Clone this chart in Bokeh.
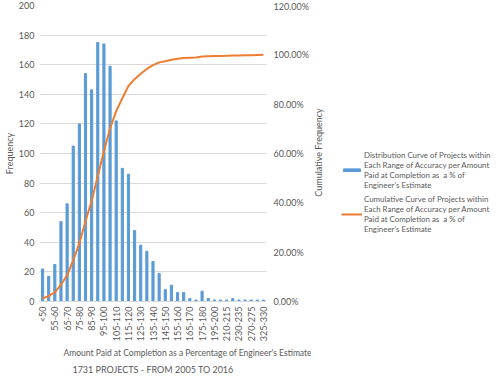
import math
from bokeh.plotting import figure
from bokeh.layouts import row
from bokeh.models import (Range1d, LinearAxis, FixedTicker, PrintfTickFormatter,
                          Legend, LegendItem, Title, Label)
from bokeh.embed import file_html
from bokeh.resources import INLINE

# ---- data -------------------------------------------------------------
categories = ["<50", "50-55", "55-60", "60-65", "65-70", "70-75", "75-80", "80-85",
              "85-90", "90-95", "95-100", "100-105", "105-110", "110-115", "115-120",
              "120-125", "125-130", "130-135", "135-140", "140-145", "145-150",
              "150-155", "155-160", "160-165", "165-170", "170-175", "175-180",
              "185-190", "195-200", "200-205", "210-215", "220-225", "230-235",
              "250-255", "270-275", "300-305", "325-330"]
frequency = [22, 17, 25, 54, 66, 105, 120, 154, 143, 175, 174, 159, 122, 90, 86,
             48, 38, 34, 27, 19, 8, 11, 6, 6, 2, 1, 7, 2, 1, 1, 1, 2, 1, 1, 1, 1, 1]
cumulative_pct = [1.27, 2.25, 3.70, 6.82, 10.63, 16.70, 23.63, 32.52, 40.79, 50.90,
                  60.95, 70.13, 77.18, 82.38, 87.35, 90.12, 92.32, 94.28, 95.84,
                  96.94, 97.40, 98.04, 98.38, 98.73, 98.84, 98.90, 99.31, 99.42,
                  99.48, 99.54, 99.60, 99.71, 99.77, 99.83, 99.88, 99.94, 100.00]
freq_ticks = [0, 20, 40, 60, 80, 100, 120, 140, 160, 180, 200]
cum_ticks = [0, 20, 40, 60, 80, 100, 120]
label_every = 2

x_pos = list(range(len(categories)))

FONT = "Lato"
GREY = "#595959"
BLUE = "#5B9BD5"
ORANGE = "#ED7D31"
H = 371

p = figure(frame_width=227, frame_height=296,
           x_range=Range1d(-0.5, len(categories) - 0.5),
           y_range=Range1d(0, 200),
           output_backend="svg", toolbar_location=None,
           min_border_left=32, min_border_right=45,
           min_border_top=5, min_border_bottom=70)
p.outline_line_color = None
p.background_fill_color = "white"
p.border_fill_color = "white"

p.extra_y_ranges = {"cum": Range1d(0, 120)}

bars = p.vbar(x=x_pos, top=frequency, width=0.35, color=BLUE)
line = p.line(x=x_pos, y=cumulative_pct, y_range_name="cum",
              line_color=ORANGE, line_width=2)

# grid
p.xgrid.visible = False
p.ygrid.ticker = FixedTicker(ticks=freq_ticks)
p.ygrid.grid_line_color = "#d9d9d9"

# left axis
ya = p.yaxis[0]
ya.ticker = FixedTicker(ticks=freq_ticks)
ya.axis_line_color = None
ya.major_tick_line_color = None
ya.minor_tick_line_color = None
ya.major_tick_in = 0
ya.major_tick_out = 0
ya.major_label_text_font = FONT
ya.major_label_text_font_size = "9px"
ya.major_label_text_color = GREY
ya.major_label_standoff = 5
ya.axis_label = "Frequency"
ya.axis_label_text_font = FONT
ya.axis_label_text_font_size = "9px"
ya.axis_label_text_font_style = "normal"
ya.axis_label_text_color = GREY
ya.axis_label_standoff = 1

# bottom axis
xa = p.xaxis[0]
shown = x_pos[::label_every]
xa.ticker = FixedTicker(ticks=shown)
xa.major_label_overrides = {i: categories[i] for i in shown}
xa.major_label_orientation = math.pi / 2
xa.axis_line_color = "#d9d9d9"
xa.major_tick_line_color = None
xa.minor_tick_line_color = None
xa.major_tick_in = 0
xa.major_tick_out = 0
xa.major_label_text_font = FONT
xa.major_label_text_font_size = "9px"
xa.major_label_text_color = GREY
xa.major_label_standoff = 5

# right axis (labels only; its title is drawn in the side panel figure)
ra = LinearAxis(y_range_name="cum", ticker=FixedTicker(ticks=cum_ticks),
                formatter=PrintfTickFormatter(format="%.2f%%"))
ra.axis_line_color = None
ra.major_tick_line_color = None
ra.minor_tick_line_color = None
ra.major_tick_in = 0
ra.major_tick_out = 0
ra.major_label_text_font = FONT
ra.major_label_text_font_size = "9px"
ra.major_label_text_color = GREY
ra.major_label_standoff = 7
p.add_layout(ra, "right")

# titles below
t1 = Title(text="Amount Paid at Completion as a Percentage of Engineer's Estimate",
           align="left", offset=24, text_font=FONT, text_font_size="8.5px",
           text_font_style="normal", text_color=GREY, standoff=2)
p.add_layout(t1, "below")
t2 = Title(text="1731 PROJECTS - FROM 2005 TO 2016", align="center",
           text_font=FONT, text_font_size="9px", text_font_style="normal",
           text_color=GREY, standoff=6)
p.add_layout(t2, "below")

# ---- side panel: secondary axis title + legend -------------------------
side_w = 488 - (32 + 227 + 45)
# ranges chosen so that the legend's source marks stay outside the view
q = figure(width=side_w, height=H, x_range=Range1d(-200, -100), y_range=Range1d(0, 1),
           x_axis_location=None, y_axis_location=None,
           output_backend="svg", toolbar_location=None,
           min_border=0, min_border_left=0, min_border_right=0,
           min_border_top=0, min_border_bottom=0)
q.grid.visible = False
q.outline_line_color = None
q.background_fill_color = "white"
q.border_fill_color = "white"

q.add_layout(Label(x=7, y=143, x_units="screen", y_units="screen",
                   text="Cumulative Frequency", angle=math.pi / 2,
                   text_align="center", text_baseline="middle",
                   text_font=FONT, text_font_size="9px", text_color=GREY))

lg_bar = q.vbar(x=x_pos, top=frequency, width=0.35, color=BLUE)
lg_line = q.line(x=x_pos, y=cumulative_pct, line_color=ORANGE, line_width=2)

lab1 = ("Distribution Curve of Projects within\nEach Range of Accuracy per Amount\n"
        "Paid at Completion as  a % of\nEngineer's Estimate")
lab2 = ("Cumulative Curve of Projects within\nEach Range of Accuracy per Amount\n"
        "Paid at Completion as  a % of\nEngineer's Estimate")
legend = Legend(items=[LegendItem(label=lab1, renderers=[lg_bar]),
                       LegendItem(label=lab2, renderers=[lg_line])],
                location=(30, 61), padding=0, margin=0, spacing=4,
                glyph_width=21, glyph_height=4, label_standoff=2,
                label_text_font=FONT, label_text_font_size="7.9px",
                label_text_color=GREY, label_text_line_height=1.35,
                border_line_alpha=0, background_fill_alpha=0)
q.add_layout(legend)

layout = row(p, q, spacing=0)
open("out.html", "w").write(file_html(layout, INLINE))
